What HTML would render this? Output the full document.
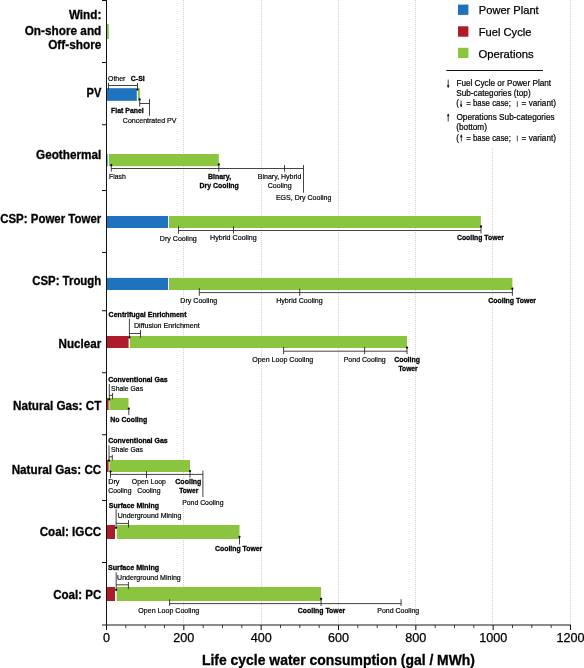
<!DOCTYPE html>
<html><head><meta charset="utf-8"><style>
html,body{margin:0;padding:0;background:#fff;}
svg{display:block;font-family:"Liberation Sans", sans-serif;will-change:transform;}
</style></head><body>
<svg width="584" height="668" viewBox="0 0 584 668">
<rect width="584" height="668" fill="#fff"/>
<line x1="183.5" y1="0" x2="183.5" y2="624" stroke="#d4d4d4" stroke-width="1" stroke-dasharray="1 1"/>
<line x1="261.5" y1="0" x2="261.5" y2="624" stroke="#d4d4d4" stroke-width="1" stroke-dasharray="1 1"/>
<line x1="338.5" y1="0" x2="338.5" y2="624" stroke="#d4d4d4" stroke-width="1" stroke-dasharray="1 1"/>
<line x1="415.5" y1="0" x2="415.5" y2="624" stroke="#d4d4d4" stroke-width="1" stroke-dasharray="1 1"/>
<line x1="492.5" y1="0" x2="492.5" y2="624" stroke="#d4d4d4" stroke-width="1" stroke-dasharray="1 1"/>
<line x1="570.5" y1="0" x2="570.5" y2="624" stroke="#d4d4d4" stroke-width="1" stroke-dasharray="1 1"/>
<rect x="420" y="0" width="146" height="147" fill="#fff"/>
<rect x="107" y="24" width="1.8" height="15" fill="#8bc53f"/>
<rect x="107" y="88.2" width="29.8" height="12.6" fill="#1f72be"/>
<rect x="137.9" y="88.2" width="2.0" height="12.6" fill="#8bc53f"/>
<rect x="107" y="154" width="0.6" height="12.2" fill="#1f72be"/>
<rect x="108.9" y="154" width="109.9" height="12.2" fill="#8bc53f"/>
<rect x="107" y="216" width="61" height="12" fill="#1f72be"/>
<rect x="169" y="216" width="311.9" height="12" fill="#8bc53f"/>
<rect x="107" y="277.9" width="61" height="12.1" fill="#1f72be"/>
<rect x="169" y="277.9" width="343.4" height="12.1" fill="#8bc53f"/>
<rect x="107" y="336" width="21.6" height="12" fill="#ad1c2b"/>
<rect x="129.8" y="336" width="277.2" height="12" fill="#8bc53f"/>
<rect x="107" y="398" width="1.6" height="12" fill="#ad1c2b"/>
<rect x="109.4" y="398" width="19.1" height="12" fill="#8bc53f"/>
<rect x="107" y="460" width="1.6" height="12" fill="#ad1c2b"/>
<rect x="109.4" y="460" width="80.6" height="12" fill="#8bc53f"/>
<rect x="107" y="525" width="8" height="14" fill="#ad1c2b"/>
<rect x="116.8" y="525" width="122.7" height="14" fill="#8bc53f"/>
<rect x="107" y="587" width="8" height="14" fill="#ad1c2b"/>
<rect x="116.6" y="587" width="204.5" height="14" fill="#8bc53f"/>
<line x1="106.5" y1="0" x2="106.5" y2="630" stroke="#111" stroke-width="1"/>
<line x1="102" y1="0.5" x2="106.5" y2="0.5" stroke="#111" stroke-width="1"/>
<line x1="102" y1="62.5" x2="106.5" y2="62.5" stroke="#111" stroke-width="1"/>
<line x1="102" y1="124.75" x2="106.5" y2="124.75" stroke="#111" stroke-width="1"/>
<line x1="102" y1="190.5" x2="106.5" y2="190.5" stroke="#111" stroke-width="1"/>
<line x1="102" y1="252.5" x2="106.5" y2="252.5" stroke="#111" stroke-width="1"/>
<line x1="102" y1="310.75" x2="106.5" y2="310.75" stroke="#111" stroke-width="1"/>
<line x1="102" y1="372.75" x2="106.5" y2="372.75" stroke="#111" stroke-width="1"/>
<line x1="102" y1="434.75" x2="106.5" y2="434.75" stroke="#111" stroke-width="1"/>
<line x1="102" y1="500.5" x2="106.5" y2="500.5" stroke="#111" stroke-width="1"/>
<line x1="102" y1="562.5" x2="106.5" y2="562.5" stroke="#111" stroke-width="1"/>
<line x1="102" y1="625" x2="571" y2="625" stroke="#1a1a1a" stroke-width="1"/>
<line x1="106.5" y1="625" x2="106.5" y2="630" stroke="#111" stroke-width="1"/>
<text x="106.5" y="641.7" font-size="12.6" stroke="#000" stroke-width="0.25" text-anchor="middle">0</text>
<line x1="125.83333333333333" y1="625" x2="125.83333333333333" y2="628" stroke="#111" stroke-width="0.8"/>
<line x1="145.16666666666666" y1="625" x2="145.16666666666666" y2="628" stroke="#111" stroke-width="0.8"/>
<line x1="164.5" y1="625" x2="164.5" y2="628" stroke="#111" stroke-width="0.8"/>
<line x1="183.83333333333331" y1="625" x2="183.83333333333331" y2="630" stroke="#111" stroke-width="1"/>
<text x="183.83333333333331" y="641.7" font-size="12.6" stroke="#000" stroke-width="0.25" text-anchor="middle">200</text>
<line x1="203.16666666666669" y1="625" x2="203.16666666666669" y2="628" stroke="#111" stroke-width="0.8"/>
<line x1="222.5" y1="625" x2="222.5" y2="628" stroke="#111" stroke-width="0.8"/>
<line x1="241.83333333333334" y1="625" x2="241.83333333333334" y2="628" stroke="#111" stroke-width="0.8"/>
<line x1="261.16666666666663" y1="625" x2="261.16666666666663" y2="630" stroke="#111" stroke-width="1"/>
<text x="261.16666666666663" y="641.7" font-size="12.6" stroke="#000" stroke-width="0.25" text-anchor="middle">400</text>
<line x1="280.5" y1="625" x2="280.5" y2="628" stroke="#111" stroke-width="0.8"/>
<line x1="299.83333333333337" y1="625" x2="299.83333333333337" y2="628" stroke="#111" stroke-width="0.8"/>
<line x1="319.16666666666663" y1="625" x2="319.16666666666663" y2="628" stroke="#111" stroke-width="0.8"/>
<line x1="338.5" y1="625" x2="338.5" y2="630" stroke="#111" stroke-width="1"/>
<text x="338.5" y="641.7" font-size="12.6" stroke="#000" stroke-width="0.25" text-anchor="middle">600</text>
<line x1="357.8333333333333" y1="625" x2="357.8333333333333" y2="628" stroke="#111" stroke-width="0.8"/>
<line x1="377.1666666666667" y1="625" x2="377.1666666666667" y2="628" stroke="#111" stroke-width="0.8"/>
<line x1="396.5" y1="625" x2="396.5" y2="628" stroke="#111" stroke-width="0.8"/>
<line x1="415.8333333333333" y1="625" x2="415.8333333333333" y2="630" stroke="#111" stroke-width="1"/>
<text x="415.8333333333333" y="641.7" font-size="12.6" stroke="#000" stroke-width="0.25" text-anchor="middle">800</text>
<line x1="435.1666666666667" y1="625" x2="435.1666666666667" y2="628" stroke="#111" stroke-width="0.8"/>
<line x1="454.5" y1="625" x2="454.5" y2="628" stroke="#111" stroke-width="0.8"/>
<line x1="473.8333333333333" y1="625" x2="473.8333333333333" y2="628" stroke="#111" stroke-width="0.8"/>
<line x1="493.1666666666667" y1="625" x2="493.1666666666667" y2="630" stroke="#111" stroke-width="1"/>
<text x="493.1666666666667" y="641.7" font-size="12.6" stroke="#000" stroke-width="0.25" text-anchor="middle">1000</text>
<line x1="512.5" y1="625" x2="512.5" y2="628" stroke="#111" stroke-width="0.8"/>
<line x1="531.8333333333333" y1="625" x2="531.8333333333333" y2="628" stroke="#111" stroke-width="0.8"/>
<line x1="551.1666666666667" y1="625" x2="551.1666666666667" y2="628" stroke="#111" stroke-width="0.8"/>
<line x1="570.5" y1="625" x2="570.5" y2="630" stroke="#111" stroke-width="1"/>
<text x="570.5" y="641.7" font-size="12.6" stroke="#000" stroke-width="0.25" text-anchor="middle">1200</text>
<text x="338.5" y="664.5" font-size="13.9" stroke="#000" stroke-width="0.3" font-weight="bold" text-anchor="middle" textLength="273" lengthAdjust="spacingAndGlyphs">Life cycle water consumption (gal / MWh)</text>
<text x="101.3" y="19.4" font-size="12.3" stroke="#000" stroke-width="0.3" font-weight="bold" text-anchor="end" textLength="32.4" lengthAdjust="spacingAndGlyphs">Wind:</text>
<text x="101.3" y="34.8" font-size="12.3" stroke="#000" stroke-width="0.3" font-weight="bold" text-anchor="end" textLength="76.6" lengthAdjust="spacingAndGlyphs">On-shore and</text>
<text x="101.3" y="49.4" font-size="12.3" stroke="#000" stroke-width="0.3" font-weight="bold" text-anchor="end" textLength="53.1" lengthAdjust="spacingAndGlyphs">Off-shore</text>
<text x="101.3" y="97" font-size="12.3" stroke="#000" stroke-width="0.3" font-weight="bold" text-anchor="end" textLength="14.8" lengthAdjust="spacingAndGlyphs">PV</text>
<text x="101.3" y="159.4" font-size="12.3" stroke="#000" stroke-width="0.3" font-weight="bold" text-anchor="end" textLength="65.3" lengthAdjust="spacingAndGlyphs">Geothermal</text>
<text x="101.3" y="222.6" font-size="12.3" stroke="#000" stroke-width="0.3" font-weight="bold" text-anchor="end" textLength="101.1" lengthAdjust="spacingAndGlyphs">CSP: Power Tower</text>
<text x="101.3" y="284.8" font-size="12.3" stroke="#000" stroke-width="0.3" font-weight="bold" text-anchor="end" textLength="69.1" lengthAdjust="spacingAndGlyphs">CSP: Trough</text>
<text x="101.3" y="347.9" font-size="12.3" stroke="#000" stroke-width="0.3" font-weight="bold" text-anchor="end" textLength="42.7" lengthAdjust="spacingAndGlyphs">Nuclear</text>
<text x="101.3" y="410.4" font-size="12.3" stroke="#000" stroke-width="0.3" font-weight="bold" text-anchor="end" textLength="88.3" lengthAdjust="spacingAndGlyphs">Natural Gas: CT</text>
<text x="101.3" y="473.6" font-size="12.3" stroke="#000" stroke-width="0.3" font-weight="bold" text-anchor="end" textLength="89.6" lengthAdjust="spacingAndGlyphs">Natural Gas: CC</text>
<text x="101.3" y="536.3" font-size="12.3" stroke="#000" stroke-width="0.3" font-weight="bold" text-anchor="end" textLength="61.6" lengthAdjust="spacingAndGlyphs">Coal: IGCC</text>
<text x="101.3" y="599.2" font-size="12.3" stroke="#000" stroke-width="0.3" font-weight="bold" text-anchor="end" textLength="48.1" lengthAdjust="spacingAndGlyphs">Coal: PC</text>
<text x="108" y="80.7" font-size="7.7" stroke="#000" stroke-width="0.2" textLength="17.3" lengthAdjust="spacingAndGlyphs">Other</text>
<text x="130.8" y="80.8" font-size="7.7" stroke="#000" stroke-width="0.3" font-weight="bold" textLength="13.9" lengthAdjust="spacingAndGlyphs">C-Si</text>
<line x1="108.5" y1="85.5" x2="137.5" y2="85.5" stroke="#222" stroke-width="0.85"/>
<line x1="108.5" y1="82.8" x2="108.5" y2="89.7" stroke="#222" stroke-width="0.85"/>
<line x1="137.5" y1="83" x2="137.5" y2="89.6" stroke="#222" stroke-width="0.85"/>
<circle cx="137.5" cy="89.6" r="1.1" fill="#000"/>
<line x1="139.7" y1="99.4" x2="139.7" y2="106.6" stroke="#222" stroke-width="0.85"/>
<circle cx="139.7" cy="99.4" r="1.1" fill="#000"/>
<line x1="139.7" y1="103.5" x2="149.5" y2="103.5" stroke="#222" stroke-width="0.85"/>
<line x1="149.5" y1="99" x2="149.5" y2="115.7" stroke="#222" stroke-width="0.85"/>
<text x="111.1" y="112.8" font-size="7.7" stroke="#000" stroke-width="0.3" font-weight="bold" textLength="32.6" lengthAdjust="spacingAndGlyphs">Flat Panel</text>
<text x="122.8" y="122.8" font-size="7.7" stroke="#000" stroke-width="0.2" textLength="53.6" lengthAdjust="spacingAndGlyphs">Concentrated PV</text>
<line x1="111.3" y1="168.5" x2="303" y2="168.5" stroke="#222" stroke-width="0.85"/>
<line x1="111.3" y1="165.2" x2="111.3" y2="171.6" stroke="#222" stroke-width="0.85"/>
<circle cx="111.3" cy="165.2" r="1.1" fill="#000"/>
<text x="109" y="178.7" font-size="7.7" stroke="#000" stroke-width="0.2" textLength="16.8" lengthAdjust="spacingAndGlyphs">Flash</text>
<line x1="218.8" y1="164.4" x2="218.8" y2="171.6" stroke="#222" stroke-width="0.85"/>
<circle cx="218.8" cy="164.4" r="1.1" fill="#000"/>
<text x="208" y="178.8" font-size="7.7" stroke="#000" stroke-width="0.3" font-weight="bold" textLength="23.1" lengthAdjust="spacingAndGlyphs">Binary,</text>
<text x="199.6" y="187.7" font-size="7.7" stroke="#000" stroke-width="0.3" font-weight="bold" textLength="39.2" lengthAdjust="spacingAndGlyphs">Dry Cooling</text>
<line x1="284.5" y1="165" x2="284.5" y2="171.6" stroke="#222" stroke-width="0.85"/>
<text x="257.8" y="179.1" font-size="7.7" stroke="#000" stroke-width="0.2" textLength="43.5" lengthAdjust="spacingAndGlyphs">Binary, Hybrid</text>
<text x="267.7" y="188.3" font-size="7.7" stroke="#000" stroke-width="0.2" textLength="24" lengthAdjust="spacingAndGlyphs">Cooling</text>
<line x1="303.5" y1="165" x2="303.5" y2="192.7" stroke="#222" stroke-width="0.85"/>
<text x="275.9" y="200.2" font-size="7.7" stroke="#000" stroke-width="0.2" textLength="55.5" lengthAdjust="spacingAndGlyphs">EGS, Dry Cooling</text>
<line x1="178.5" y1="230.5" x2="481" y2="230.5" stroke="#222" stroke-width="0.85"/>
<line x1="178.5" y1="226.2" x2="178.5" y2="233.7" stroke="#222" stroke-width="0.85"/>
<text x="159.8" y="240.5" font-size="7.7" stroke="#000" stroke-width="0.2" textLength="37" lengthAdjust="spacingAndGlyphs">Dry Cooling</text>
<line x1="233.5" y1="226.3" x2="233.5" y2="233.7" stroke="#222" stroke-width="0.85"/>
<text x="210" y="240.3" font-size="7.7" stroke="#000" stroke-width="0.2" textLength="46.7" lengthAdjust="spacingAndGlyphs">Hybrid Cooling</text>
<line x1="481" y1="226.4" x2="481" y2="233.5" stroke="#222" stroke-width="0.85"/>
<circle cx="481" cy="226.4" r="1.1" fill="#000"/>
<text x="457" y="240" font-size="7.7" stroke="#000" stroke-width="0.3" font-weight="bold" textLength="46.9" lengthAdjust="spacingAndGlyphs">Cooling Tower</text>
<line x1="199.3" y1="292.6" x2="512.4" y2="292.6" stroke="#222" stroke-width="0.85"/>
<line x1="199.3" y1="288.2" x2="199.3" y2="295.8" stroke="#222" stroke-width="0.85"/>
<text x="180.3" y="302.5" font-size="7.7" stroke="#000" stroke-width="0.2" textLength="37" lengthAdjust="spacingAndGlyphs">Dry Cooling</text>
<line x1="299.7" y1="288.6" x2="299.7" y2="295.8" stroke="#222" stroke-width="0.85"/>
<text x="276.2" y="302.6" font-size="7.7" stroke="#000" stroke-width="0.2" textLength="46.5" lengthAdjust="spacingAndGlyphs">Hybrid Cooling</text>
<line x1="512.4" y1="288.6" x2="512.4" y2="295.8" stroke="#222" stroke-width="0.85"/>
<circle cx="512.4" cy="288.6" r="1.1" fill="#000"/>
<text x="488.2" y="302.5" font-size="7.7" stroke="#000" stroke-width="0.3" font-weight="bold" textLength="47.8" lengthAdjust="spacingAndGlyphs">Cooling Tower</text>
<text x="108.6" y="316.9" font-size="7.7" stroke="#000" stroke-width="0.3" font-weight="bold" textLength="77.9" lengthAdjust="spacingAndGlyphs">Centrifugal Enrichment</text>
<line x1="129.4" y1="318.6" x2="129.4" y2="337.4" stroke="#222" stroke-width="0.85"/>
<circle cx="129.4" cy="337.4" r="1.1" fill="#000"/>
<line x1="129.4" y1="333.5" x2="140.5" y2="333.5" stroke="#222" stroke-width="0.85"/>
<line x1="140.5" y1="330.1" x2="140.5" y2="337.8" stroke="#222" stroke-width="0.85"/>
<text x="133.9" y="328.3" font-size="7.7" stroke="#000" stroke-width="0.2" textLength="65.9" lengthAdjust="spacingAndGlyphs">Diffusion Enrichment</text>
<line x1="283.6" y1="351.2" x2="407" y2="351.2" stroke="#222" stroke-width="0.85"/>
<line x1="283.6" y1="347" x2="283.6" y2="354.2" stroke="#222" stroke-width="0.85"/>
<text x="252.3" y="361.7" font-size="7.7" stroke="#000" stroke-width="0.2" textLength="61" lengthAdjust="spacingAndGlyphs">Open Loop Cooling</text>
<line x1="364.6" y1="347" x2="364.6" y2="354.2" stroke="#222" stroke-width="0.85"/>
<text x="343.7" y="362" font-size="7.7" stroke="#000" stroke-width="0.2" textLength="42" lengthAdjust="spacingAndGlyphs">Pond Cooling</text>
<line x1="407" y1="347.6" x2="407" y2="354.2" stroke="#222" stroke-width="0.85"/>
<circle cx="407" cy="347.6" r="1.1" fill="#000"/>
<text x="394.2" y="362" font-size="7.7" stroke="#000" stroke-width="0.3" font-weight="bold" textLength="25.7" lengthAdjust="spacingAndGlyphs">Cooling</text>
<text x="398.5" y="370.6" font-size="7.7" stroke="#000" stroke-width="0.3" font-weight="bold" textLength="19.2" lengthAdjust="spacingAndGlyphs">Tower</text>
<text x="108.2" y="382.2" font-size="7.7" stroke="#000" stroke-width="0.3" font-weight="bold" textLength="59.5" lengthAdjust="spacingAndGlyphs">Conventional Gas</text>
<line x1="109.3" y1="384" x2="109.3" y2="399.4" stroke="#222" stroke-width="0.85"/>
<circle cx="109.3" cy="399.4" r="1.1" fill="#000"/>
<line x1="109.3" y1="395.4" x2="112.6" y2="395.4" stroke="#222" stroke-width="0.85"/>
<line x1="112.6" y1="393" x2="112.6" y2="399.3" stroke="#222" stroke-width="0.85"/>
<text x="111.1" y="390.6" font-size="7.7" stroke="#000" stroke-width="0.2" textLength="32" lengthAdjust="spacingAndGlyphs">Shale Gas</text>
<line x1="128.8" y1="408.6" x2="128.8" y2="415.1" stroke="#222" stroke-width="0.85"/>
<circle cx="128.8" cy="408.6" r="1.1" fill="#000"/>
<text x="110.2" y="421.7" font-size="7.7" stroke="#000" stroke-width="0.3" font-weight="bold" textLength="37.1" lengthAdjust="spacingAndGlyphs">No Cooling</text>
<text x="108.2" y="443.4" font-size="7.7" stroke="#000" stroke-width="0.3" font-weight="bold" textLength="59.5" lengthAdjust="spacingAndGlyphs">Conventional Gas</text>
<line x1="109" y1="445.4" x2="109" y2="460.6" stroke="#222" stroke-width="0.85"/>
<circle cx="109" cy="460.6" r="1.1" fill="#000"/>
<line x1="109" y1="456.8" x2="112.3" y2="456.8" stroke="#222" stroke-width="0.85"/>
<line x1="112.3" y1="454.8" x2="112.3" y2="460.5" stroke="#222" stroke-width="0.85"/>
<text x="111" y="452.2" font-size="7.7" stroke="#000" stroke-width="0.2" textLength="32" lengthAdjust="spacingAndGlyphs">Shale Gas</text>
<line x1="110.5" y1="474.4" x2="202.9" y2="474.4" stroke="#222" stroke-width="0.85"/>
<line x1="110.5" y1="471.6" x2="110.5" y2="478.1" stroke="#222" stroke-width="0.85"/>
<circle cx="110.5" cy="471.6" r="1.1" fill="#000"/>
<text x="108.2" y="484.4" font-size="7.7" stroke="#000" stroke-width="0.2" textLength="11.2" lengthAdjust="spacingAndGlyphs">Dry</text>
<text x="108.2" y="493.1" font-size="7.7" stroke="#000" stroke-width="0.2" textLength="23.3" lengthAdjust="spacingAndGlyphs">Cooling</text>
<line x1="146.5" y1="471" x2="146.5" y2="478" stroke="#222" stroke-width="0.85"/>
<text x="131.8" y="484.4" font-size="7.7" stroke="#000" stroke-width="0.2" textLength="34.1" lengthAdjust="spacingAndGlyphs">Open Loop</text>
<text x="137.2" y="493.1" font-size="7.7" stroke="#000" stroke-width="0.2" textLength="23.3" lengthAdjust="spacingAndGlyphs">Cooling</text>
<line x1="190" y1="471" x2="190" y2="477.6" stroke="#222" stroke-width="0.85"/>
<circle cx="190" cy="471" r="1.1" fill="#000"/>
<text x="175.3" y="484.2" font-size="7.7" stroke="#000" stroke-width="0.3" font-weight="bold" textLength="26.1" lengthAdjust="spacingAndGlyphs">Cooling</text>
<text x="179.2" y="492.6" font-size="7.7" stroke="#000" stroke-width="0.3" font-weight="bold" textLength="19.2" lengthAdjust="spacingAndGlyphs">Tower</text>
<line x1="202.9" y1="470.6" x2="202.9" y2="497" stroke="#222" stroke-width="0.85"/>
<text x="182.2" y="504.5" font-size="7.7" stroke="#000" stroke-width="0.2" textLength="41.3" lengthAdjust="spacingAndGlyphs">Pond Cooling</text>
<text x="108.8" y="508" font-size="7.7" stroke="#000" stroke-width="0.3" font-weight="bold" textLength="50.2" lengthAdjust="spacingAndGlyphs">Surface Mining</text>
<line x1="116.1" y1="509.2" x2="116.1" y2="527.8" stroke="#222" stroke-width="0.85"/>
<circle cx="116.1" cy="527.8" r="1.1" fill="#000"/>
<line x1="116.1" y1="523.4" x2="128.5" y2="523.4" stroke="#222" stroke-width="0.85"/>
<line x1="128.5" y1="520.1" x2="128.5" y2="527.6" stroke="#222" stroke-width="0.85"/>
<text x="117.7" y="518.4" font-size="7.7" stroke="#000" stroke-width="0.2" textLength="63.7" lengthAdjust="spacingAndGlyphs">Underground Mining</text>
<line x1="239.5" y1="536.8" x2="239.5" y2="544.5" stroke="#222" stroke-width="0.85"/>
<circle cx="239.5" cy="536.8" r="1.1" fill="#000"/>
<text x="215" y="550.9" font-size="7.7" stroke="#000" stroke-width="0.3" font-weight="bold" textLength="47.3" lengthAdjust="spacingAndGlyphs">Cooling Tower</text>
<text x="108" y="570.1" font-size="7.7" stroke="#000" stroke-width="0.3" font-weight="bold" textLength="51.1" lengthAdjust="spacingAndGlyphs">Surface Mining</text>
<line x1="116.2" y1="572.4" x2="116.2" y2="589.9" stroke="#222" stroke-width="0.85"/>
<circle cx="116.2" cy="589.9" r="1.1" fill="#000"/>
<line x1="116.2" y1="584.8" x2="128.4" y2="584.8" stroke="#222" stroke-width="0.85"/>
<line x1="128.4" y1="582" x2="128.4" y2="589.1" stroke="#222" stroke-width="0.85"/>
<text x="117.1" y="580.2" font-size="7.7" stroke="#000" stroke-width="0.2" textLength="63.7" lengthAdjust="spacingAndGlyphs">Underground Mining</text>
<line x1="169.6" y1="603.6" x2="401.1" y2="603.6" stroke="#222" stroke-width="0.85"/>
<line x1="169.6" y1="599.2" x2="169.6" y2="606" stroke="#222" stroke-width="0.85"/>
<text x="138.3" y="612.9" font-size="7.7" stroke="#000" stroke-width="0.2" textLength="61" lengthAdjust="spacingAndGlyphs">Open Loop Cooling</text>
<line x1="321.1" y1="598.8" x2="321.1" y2="606" stroke="#222" stroke-width="0.85"/>
<circle cx="321.1" cy="598.8" r="1.1" fill="#000"/>
<text x="297.8" y="612.5" font-size="7.7" stroke="#000" stroke-width="0.3" font-weight="bold" textLength="47.4" lengthAdjust="spacingAndGlyphs">Cooling Tower</text>
<line x1="401.1" y1="599.2" x2="401.1" y2="606" stroke="#222" stroke-width="0.85"/>
<text x="377.3" y="612.7" font-size="7.7" stroke="#000" stroke-width="0.2" textLength="41.9" lengthAdjust="spacingAndGlyphs">Pond Cooling</text>
<rect x="458" y="4.6" width="10.4" height="10.3" fill="#1f72be"/>
<rect x="458" y="26.3" width="10.4" height="10.4" fill="#ad1c2b"/>
<rect x="458" y="47.8" width="10.4" height="10.2" fill="#8bc53f"/>
<text x="478.8" y="14" font-size="11" stroke="#000" stroke-width="0.25" textLength="59.9" lengthAdjust="spacingAndGlyphs">Power Plant</text>
<text x="478.8" y="35.9" font-size="11" stroke="#000" stroke-width="0.25" textLength="52.6" lengthAdjust="spacingAndGlyphs">Fuel Cycle</text>
<text x="478.4" y="57.5" font-size="11" stroke="#000" stroke-width="0.25" textLength="55.2" lengthAdjust="spacingAndGlyphs">Operations</text>
<line x1="446.3" y1="70.5" x2="543" y2="70.5" stroke="#111" stroke-width="1"/>
<line x1="448.2" y1="79.6" x2="448.2" y2="87.7" stroke="#111" stroke-width="0.8"/>
<path d="M446.9,85.10000000000001 L449.5,85.10000000000001 L448.2,87.7 Z" fill="#111"/>
<text x="456.4" y="86.1" font-size="8.2" stroke="#000" stroke-width="0.2" textLength="94.7" lengthAdjust="spacingAndGlyphs">Fuel Cycle or Power Plant</text>
<text x="456.2" y="96.2" font-size="8.2" stroke="#000" stroke-width="0.2" textLength="74.5" lengthAdjust="spacingAndGlyphs">Sub-categories (top)</text>
<text x="456.2" y="106.1" font-size="8.2" stroke="#000" stroke-width="0.2">(</text>
<line x1="461.1" y1="100.6" x2="461.1" y2="107.0" stroke="#111" stroke-width="0.8"/>
<path d="M459.8,104.4 L462.40000000000003,104.4 L461.1,107.0 Z" fill="#111"/>
<text x="466.3" y="106.1" font-size="8.2" stroke="#000" stroke-width="0.2" textLength="44.5" lengthAdjust="spacingAndGlyphs">= base case;</text>
<line x1="517.3" y1="101.2" x2="517.3" y2="107" stroke="#222" stroke-width="0.8"/>
<text x="521.6" y="106.1" font-size="8.2" stroke="#000" stroke-width="0.2" textLength="34.4" lengthAdjust="spacingAndGlyphs">= variant)</text>
<line x1="448.2" y1="113.7" x2="448.2" y2="121.5" stroke="#111" stroke-width="0.8"/>
<path d="M446.9,116.3 L449.5,116.3 L448.2,113.7 Z" fill="#111"/>
<text x="456.4" y="120.4" font-size="8.2" stroke="#000" stroke-width="0.2" textLength="98.3" lengthAdjust="spacingAndGlyphs">Operations Sub-categories</text>
<text x="456.2" y="130.3" font-size="8.2" stroke="#000" stroke-width="0.2" textLength="30.8" lengthAdjust="spacingAndGlyphs">(bottom)</text>
<text x="456.2" y="140.7" font-size="8.2" stroke="#000" stroke-width="0.2">(</text>
<line x1="461.3" y1="134.6" x2="461.3" y2="141.4" stroke="#111" stroke-width="0.8"/>
<path d="M460.0,137.2 L462.6,137.2 L461.3,134.6 Z" fill="#111"/>
<text x="466.3" y="140.7" font-size="8.2" stroke="#000" stroke-width="0.2" textLength="44.5" lengthAdjust="spacingAndGlyphs">= base case;</text>
<line x1="517.3" y1="135.6" x2="517.3" y2="141.4" stroke="#222" stroke-width="0.8"/>
<text x="521.6" y="140.7" font-size="8.2" stroke="#000" stroke-width="0.2" textLength="34.4" lengthAdjust="spacingAndGlyphs">= variant)</text>
</svg>
</body></html>
